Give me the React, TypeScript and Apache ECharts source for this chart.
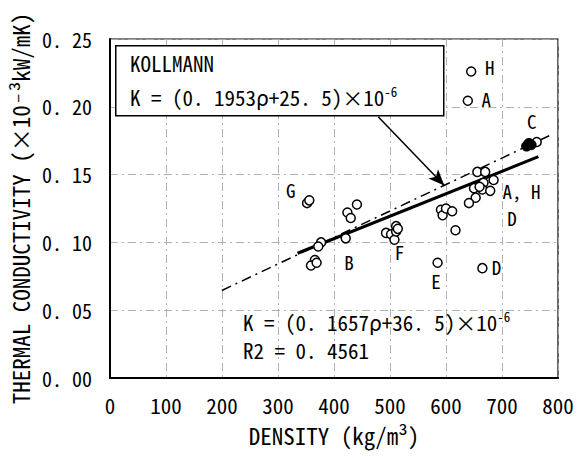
import React, { useEffect, useRef } from "react";
import * as echarts from "echarts";

// Open-circle measurements (density kg/m3, conductivity 1e-3 kW/mK)
const openX = [352, 356, 441, 424, 430, 377, 372, 421, 366, 359, 369,
  493, 502, 508, 511, 511, 514,
  591, 594, 600, 611, 617, 585,
  656, 670, 685, 650, 667, 665, 679, 653, 641, 660,
  665, 645, 639, 762];
const openY = [0.129, 0.131, 0.128, 0.122, 0.118, 0.100, 0.097, 0.103, 0.087, 0.083, 0.085,
  0.107, 0.106, 0.102, 0.108, 0.112, 0.110,
  0.124, 0.120, 0.125, 0.123, 0.109, 0.085,
  0.152, 0.152, 0.146, 0.140, 0.144, 0.139, 0.138, 0.133, 0.129, 0.141,
  0.081, 0.226, 0.2045, 0.174];
// Filled (overlapping) points, cluster C
const filledX = [744, 748, 752];
const filledY = [0.171, 0.173, 0.172];

// Species letters
const letterText = ["G", "B", "F", "E", "D", "A, H", "D", "H", "A", "C"];
const letterX = [323, 427, 517, 582, 690, 735, 718, 678, 672, 753];
const letterY = [0.139, 0.086, 0.093, 0.072, 0.082, 0.138, 0.118, 0.2296, 0.206, 0.190];

// Regression (this study) and Kollmann lines: K = (a*rho + b) x 1e-6 kW/mK
const fitCoef = [0.1657, 36.5];
const fitRange = [335, 765];
const kollCoef = [0.1953, 25.5];
const kollRange = [200, 786];

// Arrow from Kollmann box to the Kollmann line
const arrowFrom = [479, 0.1927];
const arrowTo = [597, 0.142];

const xTicks = [0, 800, 100];
const yTicks = [0, 0.25, 0.05];

const FONT = "'Noto Sans Mono CJK JP', 'DejaVu Sans Mono', monospace";

function lineData(coef: number[], range: number[]) {
  return range.map((r) => [r, (coef[0] * r + coef[1]) / 1000]);
}

const rich = {
  m: { fontSize: 21, fontFamily: FONT, fill: "#000", color: "#000", lineHeight: 22, verticalAlign: "bottom" },
  s: { fontSize: 13, fontFamily: FONT, fill: "#000", color: "#000", lineHeight: 22, verticalAlign: "top" },
};

export default function App() {
  const ref = useRef<HTMLDivElement>(null);
  useEffect(() => {
    const chart = echarts.init(ref.current!, null, { renderer: "svg" });
    const grid = { color: "#a8a8a8", type: [8, 4, 2, 4] as number[], width: 0.9 };
    chart.setOption({
      animation: false,
      backgroundColor: "#ffffff",
      textStyle: { fontFamily: FONT, color: "#000" },
      grid: { left: 106, right: 19, top: 39, bottom: 81, show: true, borderColor: "#000", borderWidth: 1.2 },
      xAxis: {
        type: "value", min: xTicks[0], max: xTicks[1], interval: xTicks[2],
        axisLine: { show: true, onZero: false, lineStyle: { color: "#000", width: 2 } },
        axisTick: { show: false },
        axisLabel: { fontSize: 21, color: "#000", fontFamily: FONT, margin: 16 },
        splitLine: { show: true, lineStyle: grid },
        name: "DENSITY (kg/m³)", nameLocation: "middle", nameGap: 45,
        nameTextStyle: { fontSize: 23, color: "#000", fontFamily: FONT },
      },
      yAxis: {
        type: "value", min: yTicks[0], max: yTicks[1], interval: yTicks[2],
        axisLine: { show: true, onZero: false, lineStyle: { color: "#000", width: 2 } },
        axisTick: { show: false },
        axisLabel: { fontSize: 20, color: "#000", fontFamily: FONT, margin: 18,
          formatter: (v: number) => v.toFixed(2).replace(".", ". ") },
        splitLine: { show: true, lineStyle: grid },
        name: "THERMAL CONDUCTIVITY (×10⁻³kW/mK)", nameLocation: "middle", nameGap: 70, nameRotate: 90,
        nameTextStyle: { fontSize: 23, color: "#000", fontFamily: FONT },
      },
      series: [
        {
          type: "line", data: lineData(kollCoef, kollRange), symbol: "none",
          lineStyle: { color: "#000", width: 1.5, type: [10, 5, 2, 5] }, z: 2,
          markLine: {
            silent: true, symbol: ["none", "arrow"], symbolSize: [10, 16],
            lineStyle: { color: "#000", width: 1.5, type: "solid" }, label: { show: false },
            data: [[{ coord: arrowFrom }, { coord: arrowTo }]],
          },
        },
        {
          type: "line", data: lineData(fitCoef, fitRange), symbol: "none",
          lineStyle: { color: "#000", width: 3 }, z: 3,
        },
        {
          type: "scatter", data: openX.map((x, i) => [x, openY[i]]), symbol: "circle", symbolSize: 9,
          itemStyle: { color: "#fff", borderColor: "#000", borderWidth: 1.5, opacity: 1 }, z: 4,
        },
        {
          type: "scatter", data: filledX.map((x, i) => [x, filledY[i]]), symbol: "circle", symbolSize: 10,
          itemStyle: { color: "#000", borderColor: "#000", borderWidth: 1, opacity: 1 }, z: 5,
        },
        {
          type: "scatter", data: letterX.map((x, i) => [x, letterY[i], letterText[i]]), symbolSize: 1,
          itemStyle: { opacity: 1, color: "transparent" },
          label: { show: true, position: "inside", formatter: (p: any) => p.value[2],
            fontSize: 19, color: "#000", fontFamily: FONT, opacity: 1 },
          z: 6,
        },
      ],
      graphic: [
        {
          type: "rect", left: 115, top: 45, z: 10,
          shape: { width: 328, height: 70 },
          style: { fill: "#fff", stroke: "#000", lineWidth: 1.5 },
        },
        {
          type: "text", left: 130, top: 52, z: 11,
          style: { text: "KOLLMANN", fontSize: 21, fontFamily: FONT, fill: "#000" },
        },
        {
          type: "text", left: 130, top: 85, z: 11,
          style: { text: "{m|K = (0. 1953ρ+25. 5)×10}{s|-6}", rich },
        },
        {
          type: "text", left: 243, top: 310, z: 11,
          style: { text: "{m|K = (0. 1657ρ+36. 5)×10}{s|-6}", rich },
        },
        {
          type: "text", left: 243, top: 339, z: 11,
          style: { text: "R2 = 0. 4561", fontSize: 21, fontFamily: FONT, fill: "#000" },
        },
      ],
    });
    return () => chart.dispose();
  }, []);
  return <div ref={ref} style={{ position: "fixed", left: 0, top: 0, width: 577, height: 459 }} />;
}
